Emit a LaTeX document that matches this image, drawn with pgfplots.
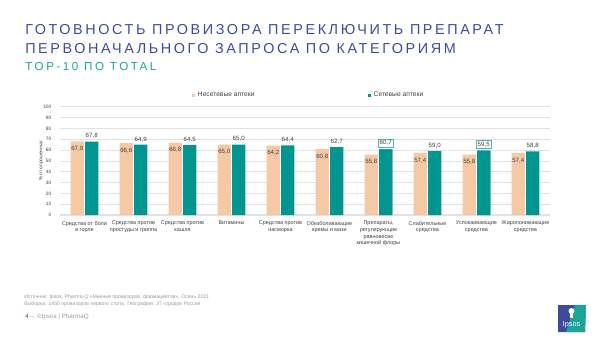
\documentclass[border=0pt]{standalone}
\usepackage{pgfplots}
\pgfplotsset{compat=1.18}
\usepackage{fontspec}
\setmainfont{Liberation Sans}
\definecolor{ttl}{HTML}{3D4A9E}
\definecolor{sub}{HTML}{1BA49A}
\definecolor{peach}{HTML}{F5C9A5}
\definecolor{teal1}{HTML}{00968F}
\definecolor{lbl}{HTML}{404040}
\definecolor{grd}{HTML}{E2E2E2}
\definecolor{foot}{HTML}{9A9A9A}
\begin{document}
\begin{tikzpicture}[x=0.75pt,y=-0.75pt]
\useasboundingbox (0,0) rectangle (600,337);
% titles
\node[anchor=base west,inner sep=0,text=ttl,font=\fontsize{10.8}{13}\selectfont\addfontfeature{LetterSpace=18}] at (25,34.3) {ГОТОВНОСТЬ ПРОВИЗОРА ПЕРЕКЛЮЧИТЬ ПРЕПАРАТ};
\node[anchor=base west,inner sep=0,text=ttl,font=\fontsize{10.8}{13}\selectfont\addfontfeature{LetterSpace=18}] at (25,53) {ПЕРВОНАЧАЛЬНОГО ЗАПРОСА ПО КАТЕГОРИЯМ};
\node[anchor=base west,inner sep=0,text=sub,font=\fontsize{8.7}{11}\selectfont\addfontfeature{LetterSpace=22}] at (25,70) {TOP-10 ПО TOTAL};
\begin{axis}[
  at={(45pt,-161.25pt)}, anchor=south west,
  width=367.5pt, height=81.2pt, scale only axis,
  ymin=0, ymax=100, xmin=-0.5, xmax=9.5,
  ytick={0,10,...,100},
  xtick={0,...,9},
  xticklabels={Средства от боли\\в горле, Средства против\\простуды и гриппа, Средства против\\кашля, Витамины, Средства против\\насморка, Обезболивающие\\кремы и мази, {Препараты,\\регулирующие\\равновесие\\кишечной флоры}, Слабительные\\средства, Успокаивающие\\средства, Жаропонижающие\\средства},
  x tick label style={font=\fontsize{4.1}{5}\selectfont, align=center, text=lbl, yshift=-1pt},
  y tick label style={font=\fontsize{3.6}{4}\selectfont, text=lbl, xshift=-3pt},
  /pgf/number format/assume math mode=true,
  ylabel={\% от опрошенных},
  ylabel style={font=\fontsize{3.6}{4}\selectfont, text=lbl, yshift=-7pt},
  axis x line*=bottom, axis y line*=left,
  x axis line style={draw=grd, thick, -}, y axis line style={draw=none},
  major tick length=0pt,
  ymajorgrids, grid style={draw=grd, line width=0.5pt},
  bar width=10pt,
  legend style={at={(0.5,1)}, anchor=south, yshift=2pt, xshift=3pt, draw=none, fill=none,
    font=\fontsize{5}{6}\selectfont, text=lbl,
    /tikz/every even column/.append style={column sep=83pt}},
  legend columns=2,
  legend image code/.code={\fill[#1] (0pt,-1.2pt) rectangle (2.4pt,1.2pt);},
  nodes near coords={\pgfmathprintnumber[use comma,fixed,fixed zerofill,precision=1]{\pgfplotspointmeta}},
]
\addplot[ybar, bar shift=-5.4pt, fill=peach, draw=none,
  nodes near coords style={font=\fontsize{4.6}{5}\selectfont, text=lbl, anchor=north, yshift=-3pt, xshift=-5.4pt, inner sep=0.5pt}]
  coordinates {(0,67.9) (1,66.6) (2,66.8) (3,65.0) (4,64.2) (5,60.8) (6,55.8) (7,57.4) (8,55.8) (9,57.4)};
\addlegendentry{Несетевые аптеки}
\addplot[ybar, bar shift=5.4pt, fill=teal1, draw=none,
  nodes near coords style={font=\fontsize{4.6}{5}\selectfont, text=lbl, anchor=south, yshift=1.5pt, xshift=5.4pt, inner sep=0.5pt}]
  coordinates {(0,67.8) (1,64.9) (2,64.5) (3,65.0) (4,64.4) (5,62.7) (6,60.7) (7,59.0) (8,59.5) (9,58.8)};
\addlegendentry{Сетевые аптеки}
\addplot[ybar, bar shift=5.4pt, fill=teal1, draw=none, forget plot,
  nodes near coords style={font=\fontsize{4.6}{5}\selectfont, text=lbl, anchor=south, yshift=1.5pt, xshift=5.4pt, inner sep=1pt, draw=teal1!70, fill=white, line width=0.4pt}]
  coordinates {(6,60.7) (8,59.5)};
\end{axis}
% footer
\node[anchor=base west,inner sep=0,text=foot,font=\fontsize{3.85}{4.5}\selectfont] at (24,298) {Источник: Ipsos, Pharma-Q «Мнение провизоров, фармацевтов», Осень 2021};
\node[anchor=base west,inner sep=0,text=foot,font=\fontsize{3.85}{4.5}\selectfont] at (24,305) {Выборка: 1450 провизоров первого стола. География: 27 городов России};
\node[anchor=base west,inner sep=0,font=\fontsize{4.7}{5}\selectfont] at (25,318) {\textcolor{ttl}{4} \textcolor{foot}{–}\enspace\textcolor{foot}{©Ipsos | PharmaQ}};
% logo
\fill[ttl] (558,305) -- (586,305) -- (585,332) -- (558,332) -- cycle;
\fill[sub] (575,305) -- (586,305) -- (585,332) -- (566,332) -- cycle;
\fill[white] (571.5,311) circle (3);
\fill[white] (570,313) rectangle (573,318);
\node[text=white,font=\fontsize{5.5}{6}\selectfont,inner sep=0] at (571.5,325) {Ipsos};
\end{tikzpicture}
\end{document}
